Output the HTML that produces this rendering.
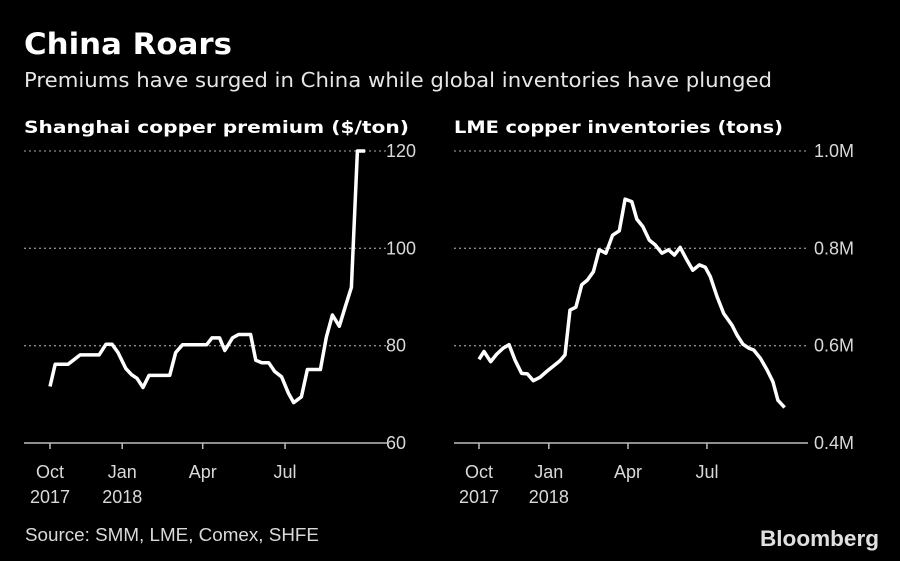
<!DOCTYPE html>
<html><head><meta charset="utf-8"><style>
html,body{margin:0;padding:0;background:#000;}
svg{display:block;}
text{font-family:"DejaVu Sans","Liberation Sans",sans-serif;}
.tk{font-family:"Liberation Sans","DejaVu Sans",sans-serif;}
</style></head><body>
<svg id="chart" width="900" height="561" viewBox="0 0 900 561">
<rect x="0" y="0" width="900" height="561" fill="#000"/>
<text x="24" y="54" fill="#fff" font-size="29" font-weight="bold" textLength="208" lengthAdjust="spacingAndGlyphs">China Roars</text>
<text x="24" y="87" fill="#e6e6e6" font-size="20" textLength="748" lengthAdjust="spacingAndGlyphs">Premiums have surged in China while global inventories have plunged</text>
<text x="24" y="133" fill="#fff" font-size="17" font-weight="bold" textLength="385" lengthAdjust="spacingAndGlyphs">Shanghai copper premium ($/ton)</text>
<text x="454" y="133" fill="#fff" font-size="17" font-weight="bold" textLength="329" lengthAdjust="spacingAndGlyphs">LME copper inventories (tons)</text>
<g id="left"></g>
<g id="right"></g>
<text x="25" y="541" fill="#d9d9d9" font-size="18" class="tk" textLength="294" lengthAdjust="spacingAndGlyphs">Source: SMM, LME, Comex, SHFE</text>
<text x="879" y="546" fill="#e0e0e0" font-size="22" font-weight="bold" class="tk" text-anchor="end" textLength="119" lengthAdjust="spacingAndGlyphs">Bloomberg</text>
</svg>
<script>
// Left: Shanghai copper premium — day offset from Oct 1 2017
const premiumDays = [0,6,21,27,35,57,65,72,79,88,95,101,108,115,139,146,154,182,188,197,203,212,219,233,239,246,254,261,269,277,283,292,299,314,321,328,336,343,350,357,366];
const premiumValues = [71.6,76.2,76.2,77,78.1,78.1,80.3,80.3,78.6,75.3,74,73.3,71.4,73.9,73.9,78.6,80.2,80.2,81.6,81.6,79,81.6,82.3,82.3,77,76.5,76.5,74.7,73.6,70.2,68.3,69.5,75.1,75.1,81.8,86.3,84,88,92,120,120];
const premiumTicks = [60,80,100,120];
// Right: LME copper inventories (millions of tons)
const invDays = [0,6,14,21,29,36,43,51,58,65,73,81,89,97,103,109,116,123,130,137,144,152,160,168,175,183,189,196,204,211,219,227,234,241,248,256,264,271,277,285,293,303,309,316,323,329,337,345,352,358,366];
const invValues = [0.572,0.588,0.567,0.582,0.595,0.602,0.571,0.543,0.542,0.528,0.535,0.547,0.558,0.569,0.581,0.673,0.679,0.725,0.735,0.752,0.797,0.790,0.827,0.836,0.901,0.896,0.860,0.845,0.817,0.807,0.790,0.797,0.786,0.802,0.779,0.755,0.766,0.761,0.742,0.701,0.666,0.642,0.622,0.603,0.595,0.591,0.574,0.550,0.526,0.488,0.473];
const invTicks = [0.4,0.6,0.8,1.0];
const invTickLabels = ["0.4M","0.6M","0.8M","1.0M"];
const monthTickDays = [0,92,182,273];
const monthTickLine1 = ["Oct","Jan","Apr","Jul"];
const monthTickLine2 = ["2017","2018","",""];

const NS="http://www.w3.org/2000/svg";
function mk(tag,attrs,parent){const e=document.createElementNS(NS,tag);for(const k in attrs)e.setAttribute(k,attrs[k]);parent.appendChild(e);return e;}

function panel(g,cfg){
  const xs=d=>cfg.x0+(d-0)*cfg.kx;
  const ys=v=>cfg.yBot-(v-cfg.vmin)/(cfg.vmax-cfg.vmin)*(cfg.yBot-cfg.yTop);
  cfg.ticks.forEach((t,i)=>{
    const y=ys(t);
    if(i>0){
      const gl=mk('line',{x1:cfg.left,x2:cfg.right,y1:y,y2:y,stroke:'#8a8a8a','stroke-width':1.3,'stroke-dasharray':'2 3'},g);
      
      
    }
    const tl=mk('text',{x:cfg.labelX,y:y+6,fill:'#d9d9d9','font-size':18,'class':'tk'},g);
    tl.textContent=cfg.tickLabels[i];
    
    
  });
  const ax=mk('line',{x1:cfg.left,x2:cfg.right,y1:cfg.yBot,y2:cfg.yBot,stroke:'#bdbdbd','stroke-width':1.5},g);
  
  
  monthTickDays.forEach((d,i)=>{
    const x=xs(d)+cfg.tickOff[i];
    const tk=mk('line',{x1:x,x2:x,y1:cfg.yBot,y2:cfg.yBot+6,stroke:'#bdbdbd','stroke-width':1.5},g);
    
    
    const t1=mk('text',{x:x,y:478,fill:'#d9d9d9','font-size':18,'text-anchor':'middle','class':'tk'},g);
    t1.textContent=monthTickLine1[i];
    
    
    if(monthTickLine2[i]){
      const t2=mk('text',{x:x,y:503,fill:'#d9d9d9','font-size':18,'text-anchor':'middle','class':'tk'},g);
      t2.textContent=monthTickLine2[i];
      
      
    }
  });
  const pts=cfg.days.map((d,i)=>xs(d).toFixed(1)+','+ys(cfg.vals[i]).toFixed(1)).join(' ');
  const pl=mk('polyline',{points:pts,fill:'none',stroke:'#fff','stroke-width':3.5,'stroke-linejoin':'round','stroke-linecap':'butt'},g);
  
  
}
panel(document.getElementById('left'),{x0:50,kx:0.861,left:24,right:389,yTop:151,yBot:443,vmin:60,vmax:120,ticks:premiumTicks,tickLabels:premiumTicks.map(String),labelX:386,days:premiumDays,vals:premiumValues,tickOff:[0,-7,-4,0]});
panel(document.getElementById('right'),{x0:479,kx:0.835,left:454,right:808,yTop:151,yBot:443,vmin:0.4,vmax:1.0,ticks:invTicks,tickLabels:invTickLabels,labelX:814,days:invDays,vals:invValues,tickOff:[0,-7,-3,0]});
</script>
</body></html>
